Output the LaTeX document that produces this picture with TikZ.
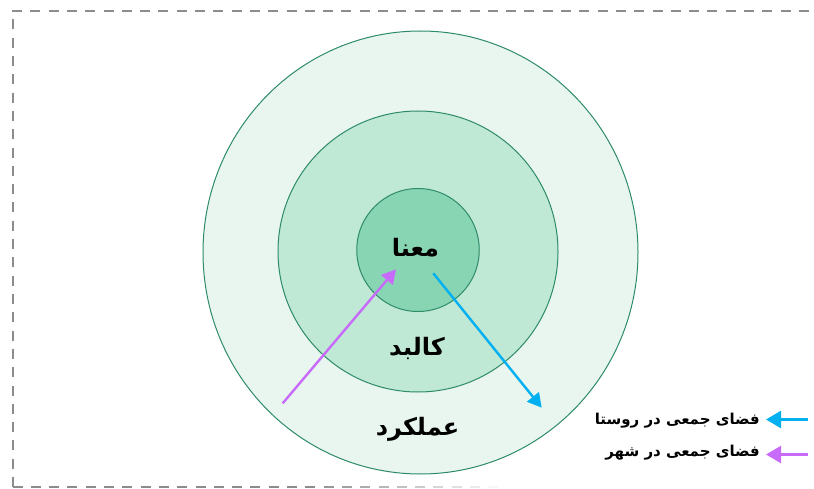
\documentclass[tikz,border=0pt]{standalone}
\usepackage{fontspec}
\newfontfamily\arabicfont[Script=Arabic]{DejaVu Sans}
\TeXXeTstate=1
\usetikzlibrary{arrows.meta,shapes.geometric}
\definecolor{ringA}{HTML}{E8F6EF}
\definecolor{ringB}{HTML}{BFE8D5}
\definecolor{ringC}{HTML}{88D5B3}
\definecolor{ringline}{HTML}{2E8B68}
\definecolor{bluearr}{HTML}{00B0F0}
\definecolor{purparr}{HTML}{C86BFA}
\definecolor{frame}{HTML}{8C8C8C}
\tikzset{
  ring/.style={ellipse, draw=ringline, line width=1pt, inner sep=0pt},
  lbl/.style={font=\arabicfont\bfseries\fontsize{24}{28}\selectfont, inner sep=0pt, text=black},
  legtext/.style={font=\arabicfont\bfseries\fontsize{15}{18}\selectfont, inner sep=0pt, anchor=east, text=black},
  flow/.style={line width=2.4pt, -{Triangle[length=14pt,width=15pt]}},
  framedash/.style={draw=frame, line width=2pt, dash pattern=on 10pt off 8.3pt},
}
\begin{document}
\begin{tikzpicture}[x=1pt,y=-1pt]
\useasboundingbox (0,0) rectangle (814,489);
% frame
\draw[framedash] (12.5,487) -- (12.5,10.7) -- (814,10.7);
\foreach \x in {12.5,30.8,...,505} {
  \pgfmathsetmacro\op{min(1,max(0,(505-\x)/200))}
  \draw[draw=frame, line width=2pt, opacity=\op] (\x,487) -- ({\x+10},487);
}
% rings
\node[ring, fill=ringA, minimum width=435pt, minimum height=443pt] (outer) at (420.5,252.5) {};
\node[ring, fill=ringB, minimum width=280pt, minimum height=281pt] (middle) at (418,251.5) {};
\node[ring, fill=ringC, minimum width=122.5pt, minimum height=123pt] (inner) at (418,250) {};
% labels
\node[lbl] (maana) at (415.5,248) {\beginR معنا\endR};
\node[lbl] (kalbad) at (417,348) {\beginR کالبد\endR};
\node[lbl] (amalkard) at (417.5,429) {\beginR عملکرد\endR};
% flow arrows
\coordinate (pS) at (282.7,403.3);
\coordinate (pE) at (396,269.3);
\coordinate (bS) at (433.3,273.3);
\coordinate (bE) at (541.7,407.7);
\draw[flow, draw=purparr, fill=purparr] (pS) -- (pE);
\draw[flow, draw=bluearr, fill=bluearr] (bS) -- (bE);
% legend
\node[legtext] (legA) at (760,420.5) {\beginR فضای جمعی در روستا\endR};
\node[legtext] (legB) at (760,452.5) {\beginR فضای جمعی در شهر\endR};
\coordinate (laS) at (808,419.5);
\coordinate (laE) at (766,419.5);
\coordinate (lbS) at (808,454.5);
\coordinate (lbE) at (766,454.5);
\draw[flow, draw=bluearr, fill=bluearr, -{Triangle[length=15pt,width=17pt]}] (laS) -- (laE);
\draw[flow, draw=purparr, fill=purparr, -{Triangle[length=15pt,width=17pt]}] (lbS) -- (lbE);
\end{tikzpicture}
\end{document}
